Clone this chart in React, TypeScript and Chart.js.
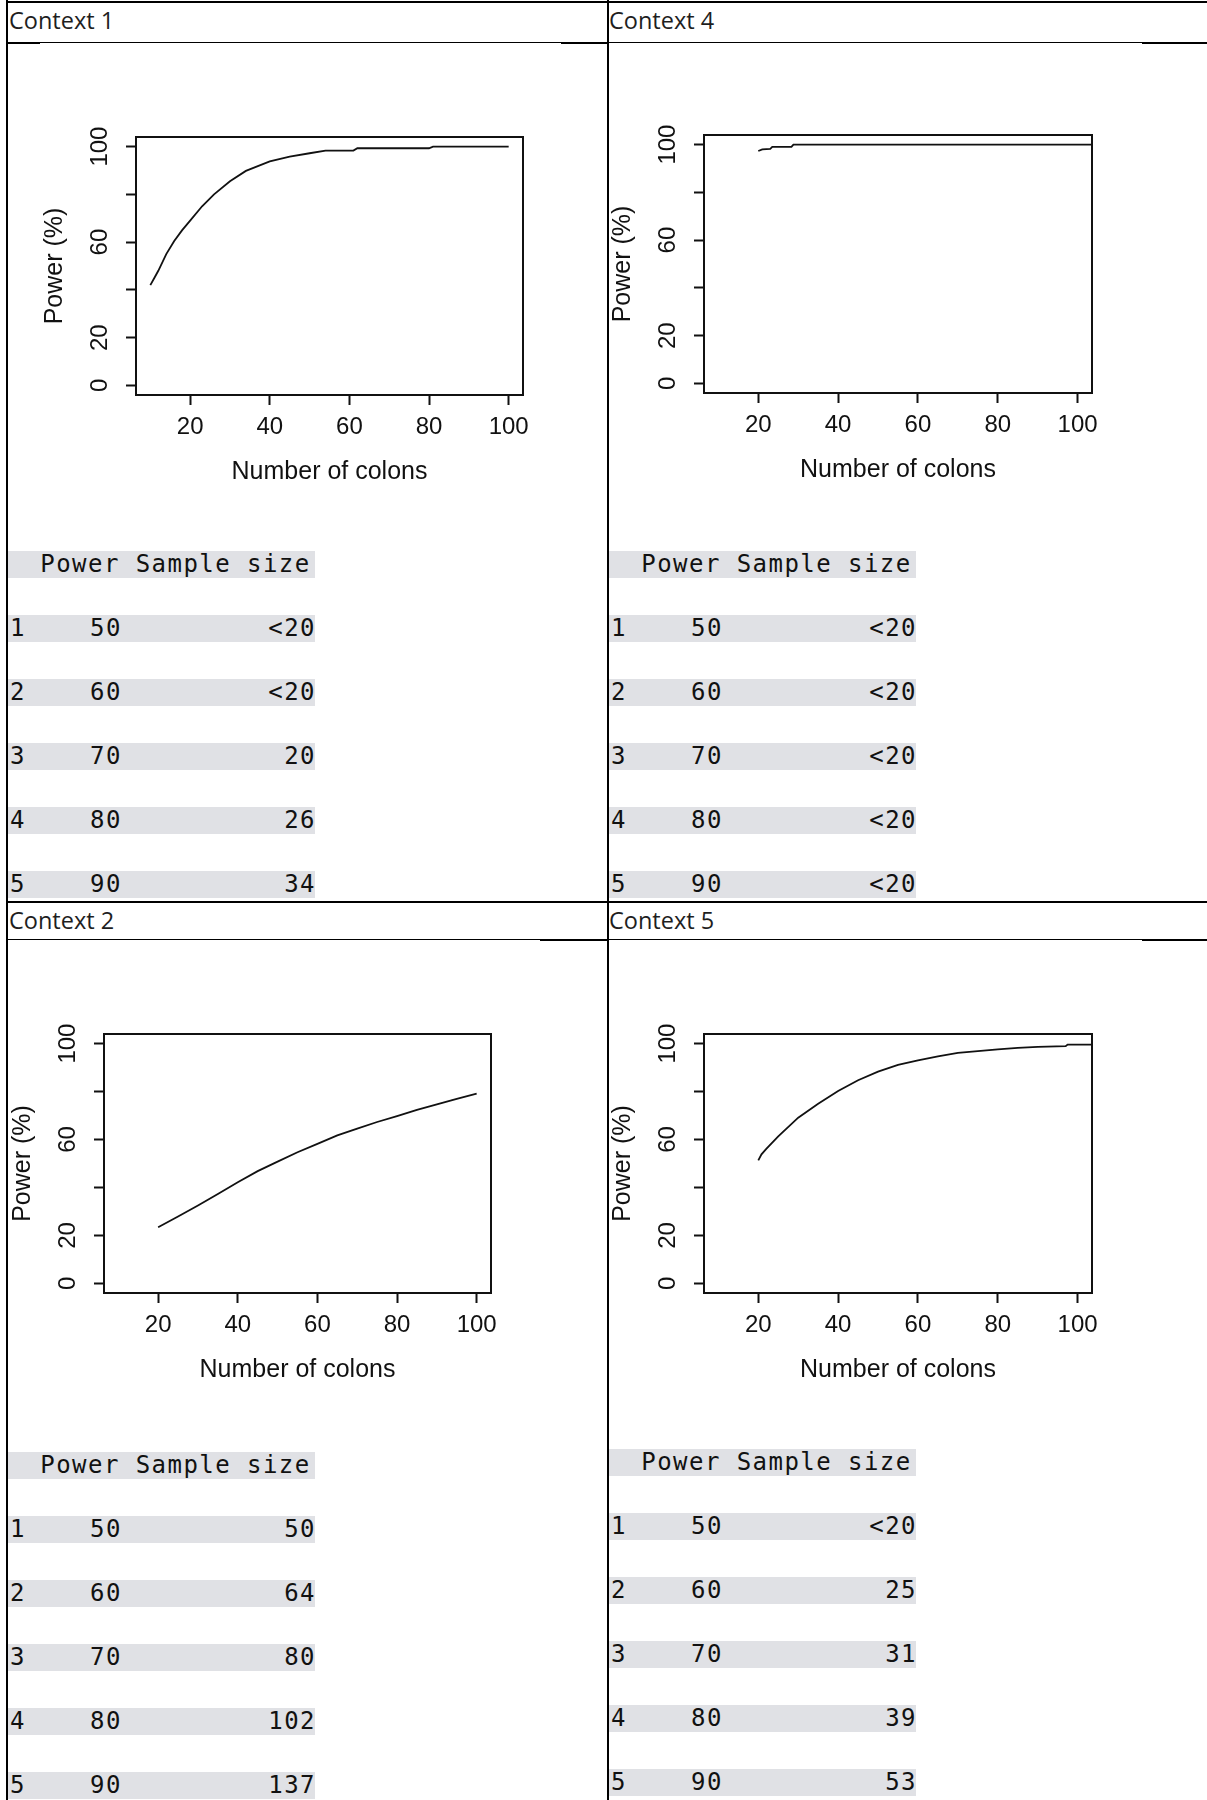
import React, { useEffect, useRef } from 'react';
import { Chart, registerables } from 'chart.js';

Chart.register(...registerables);

// ---------- data ----------
const X_TICKS = [20, 40, 60, 80, 100];
const Y_TICKS = [0, 20, 40, 60, 80, 100];
const Y_TICK_LABELS = [0, 20, 60, 100];
const X_MIN = 6.4;
const X_MAX = 103.6;
const Y_MIN = -4;
const Y_MAX = 104;

const CTX1_N = [10, 11, 12, 14, 16, 18, 20, 23, 26, 30, 34, 40, 45, 50, 54, 61, 62, 80, 81, 100];
const CTX1_P = [42, 45, 48, 55, 60.5, 65, 69, 75, 80, 85.5, 89.8, 93.8, 95.8, 97.2, 98.3, 98.3, 99.3, 99.3, 100, 100];

const CTX4_N = [20, 21, 23, 23.5, 28.3, 28.8, 103.6];
const CTX4_P = [97.3, 98, 98.2, 99, 99, 100, 100];

const CTX2_N = [20, 25, 30, 35, 40, 45, 50, 55, 60, 65, 70, 75, 80, 85, 90, 95, 100];
const CTX2_P = [23.4, 27.9, 32.5, 37.3, 42.2, 46.8, 50.8, 54.7, 58.2, 61.7, 64.5, 67.3, 69.8, 72.4, 74.7, 76.9, 79.1];

const CTX5_N = [20, 20.8, 22, 25, 30, 35, 40, 45, 50, 55, 60, 65, 70, 75, 80, 85, 90, 97, 97.5, 103.5];
const CTX5_P = [51.3, 53.8, 56.1, 61.3, 69.1, 74.9, 80.2, 84.7, 88.3, 91.1, 93, 94.7, 96.1, 96.9, 97.6, 98.2, 98.6, 98.9, 99.6, 99.6];

const POWER_LEVELS = ['50', '60', '70', '80', '90'];
const CTX1_SIZES = ['<20', '<20', '20', '26', '34'];
const CTX4_SIZES = ['<20', '<20', '<20', '<20', '<20'];
const CTX2_SIZES = ['50', '64', '80', '102', '137'];
const CTX5_SIZES = ['<20', '25', '31', '39', '53'];

const X_TITLE = 'Number of colons';
const Y_TITLE = 'Power (%)';

// ---------- layout ----------
const PAD_L = 100;
const PAD_T = 30;
const PAD_R = 20;
const PAD_B = 110;
const R_FONT = '"Liberation Sans", Arial, sans-serif';
const INK = '#111';

type Box = { x: number; y: number; w: number; h: number };

const rBox = {
  id: 'rBox',
  afterDraw(chart: any) {
    const { ctx, chartArea: a } = chart;
    ctx.save();
    ctx.strokeStyle = INK;
    ctx.lineWidth = 2;
    ctx.strokeRect(a.left, a.top, a.right - a.left, a.bottom - a.top);
    ctx.restore();
  },
};

function PowerPlot({ box, n, p }: { box: Box; n: number[]; p: number[] }) {
  const ref = useRef<HTMLCanvasElement>(null);
  const cw = box.w + PAD_L + PAD_R;
  const ch = box.h + PAD_T + PAD_B;
  useEffect(() => {
    const canvas = ref.current as HTMLCanvasElement;
    const tickFont = { family: R_FONT, size: 24 };
    const titleFont = { family: R_FONT, size: 25 };
    const chart = new Chart(canvas, {
      type: 'line',
      data: {
        datasets: [
          {
            data: n.map((v, i) => ({ x: v, y: p[i] })),
            borderColor: INK,
            borderWidth: 1.8,
            pointRadius: 0,
            tension: 0,
            fill: false,
          },
        ],
      },
      options: {
        responsive: false,
        animation: false,
        devicePixelRatio: 1,
        layout: { padding: { left: 0, top: PAD_T, right: PAD_R, bottom: 0 } },
        plugins: { legend: { display: false }, tooltip: { enabled: false } },
        scales: {
          x: {
            type: 'linear',
            min: X_MIN,
            max: X_MAX,
            afterBuildTicks: (s: any) => {
              s.ticks = X_TICKS.map((v) => ({ value: v }));
            },
            afterFit: (s: any) => {
              s.height = PAD_B;
            },
            border: { display: false },
            grid: {
              drawOnChartArea: false,
              drawTicks: true,
              tickLength: 10,
              tickWidth: 2,
              tickColor: INK,
              color: INK,
            },
            ticks: {
              font: tickFont,
              color: INK,
              padding: 7.6,
              autoSkip: false,
              maxRotation: 0,
              minRotation: 0,
              callback: (v: any) => String(v),
            },
            title: {
              display: true,
              text: X_TITLE,
              font: titleFont,
              color: INK,
              padding: { top: 18, bottom: 18 },
            },
          },
          y: {
            type: 'linear',
            min: Y_MIN,
            max: Y_MAX,
            afterBuildTicks: (s: any) => {
              s.ticks = Y_TICKS.map((v) => ({ value: v }));
            },
            afterFit: (s: any) => {
              s.width = PAD_L;
            },
            border: { display: false },
            grid: {
              drawOnChartArea: false,
              drawTicks: true,
              tickLength: 10,
              tickWidth: 2,
              tickColor: INK,
              color: INK,
            },
            ticks: {
              font: tickFont,
              color: INK,
              padding: 6,
              autoSkip: false,
              minRotation: 90,
              maxRotation: 90,
              crossAlign: 'center',
              callback: (v: any) => (Y_TICK_LABELS.includes(Number(v)) ? String(v) : ''),
            },
            title: {
              display: true,
              text: Y_TITLE,
              font: titleFont,
              color: INK,
              padding: { top: 4, bottom: 4 },
            },
          },
        },
      } as any,
      plugins: [rBox],
    });
    return () => chart.destroy();
  }, []);
  return (
    <canvas
      ref={ref}
      width={cw}
      height={ch}
      style={{ position: 'absolute', left: box.x - PAD_L, top: box.y - PAD_T, width: cw, height: ch, display: 'block' }}
    />
  );
}

const MONO: React.CSSProperties = {
  position: 'absolute',
  fontFamily: '"DejaVu Sans Mono", monospace',
  fontSize: 24,
  letterSpacing: '1.45px',
  lineHeight: '27px',
  height: 27,
  color: INK,
  whiteSpace: 'pre',
};
const BAND = '#e0e1e5';

function PowerTable({ x0, y0, sizes }: { x0: number; y0: number; sizes: string[] }) {
  const rows = POWER_LEVELS.map((pw, i) => {
    const top = y0 + 64 * (i + 1);
    return (
      <React.Fragment key={i}>
        <div style={{ position: 'absolute', left: x0 - 2, top, width: 307, height: 27, background: BAND }} />
        <div style={{ ...MONO, left: x0, top }}>{String(i + 1)}</div>
        <div style={{ ...MONO, left: x0 + 80, top }}>{pw}</div>
        <div style={{ ...MONO, left: x0 + 200, top, width: 106, textAlign: 'right' }}>{sizes[i]}</div>
      </React.Fragment>
    );
  });
  return (
    <>
      <div style={{ position: 'absolute', left: x0 - 2, top: y0, width: 307, height: 27, background: BAND }} />
      <div style={{ ...MONO, left: x0 + 30.3, top: y0 }}>Power Sample size</div>
      {rows}
    </>
  );
}

function HLine({ x1, x2, y, t }: { x1: number; x2: number; y: number; t: number }) {
  return <div style={{ position: 'absolute', left: x1, top: y, width: x2 - x1, height: t, background: '#000' }} />;
}

function Caption({ x, y, text }: { x: number; y: number; text: string }) {
  return (
    <div
      style={{
        position: 'absolute',
        left: x,
        top: y,
        fontFamily: '"Open Sans", "Noto Sans", sans-serif',
        fontSize: 23.5,
        lineHeight: '30px',
        color: '#1e1e1e',
        whiteSpace: 'pre',
      }}
    >
      {text}
    </div>
  );
}

export default function App() {
  return (
    <div
      style={{
        position: 'absolute',
        left: 0,
        top: 0,
        width: 1207,
        height: 1800,
        overflow: 'hidden',
        background: '#fff',
      }}
    >
      {/* frame lines */}
      <HLine x1={6} x2={1207} y={1} t={2} />
      <HLine x1={6} x2={1207} y={901} t={2} />
      <HLine x1={8} x2={607} y={42} t={1} />
      <HLine x1={8} x2={40} y={42} t={2} />
      <HLine x1={561} x2={607} y={42} t={2} />
      <HLine x1={609} x2={1207} y={42} t={1} />
      <HLine x1={1142} x2={1207} y={42} t={2} />
      <HLine x1={8} x2={607} y={939} t={1} />
      <HLine x1={540} x2={607} y={939} t={2} />
      <HLine x1={609} x2={1207} y={939} t={1} />
      <HLine x1={1142} x2={1207} y={939} t={2} />
      <div style={{ position: 'absolute', left: 6, top: 0, width: 2, height: 1800, background: '#000' }} />
      <div style={{ position: 'absolute', left: 607, top: 0, width: 2, height: 1800, background: '#000' }} />

      <Caption x={9} y={5} text="Context 1" />
      <Caption x={609} y={5} text="Context 4" />
      <Caption x={9} y={905} text="Context 2" />
      <Caption x={609} y={905} text="Context 5" />

      <PowerPlot box={{ x: 136, y: 137, w: 387, h: 258 }} n={CTX1_N} p={CTX1_P} />
      <PowerPlot box={{ x: 704, y: 135, w: 388, h: 258 }} n={CTX4_N} p={CTX4_P} />
      <PowerPlot box={{ x: 104, y: 1034, w: 387, h: 259 }} n={CTX2_N} p={CTX2_P} />
      <PowerPlot box={{ x: 704, y: 1034, w: 388, h: 259 }} n={CTX5_N} p={CTX5_P} />

      <PowerTable x0={10} y0={551} sizes={CTX1_SIZES} />
      <PowerTable x0={611} y0={551} sizes={CTX4_SIZES} />
      <PowerTable x0={10} y0={1452} sizes={CTX2_SIZES} />
      <PowerTable x0={611} y0={1449} sizes={CTX5_SIZES} />
    </div>
  );
}
